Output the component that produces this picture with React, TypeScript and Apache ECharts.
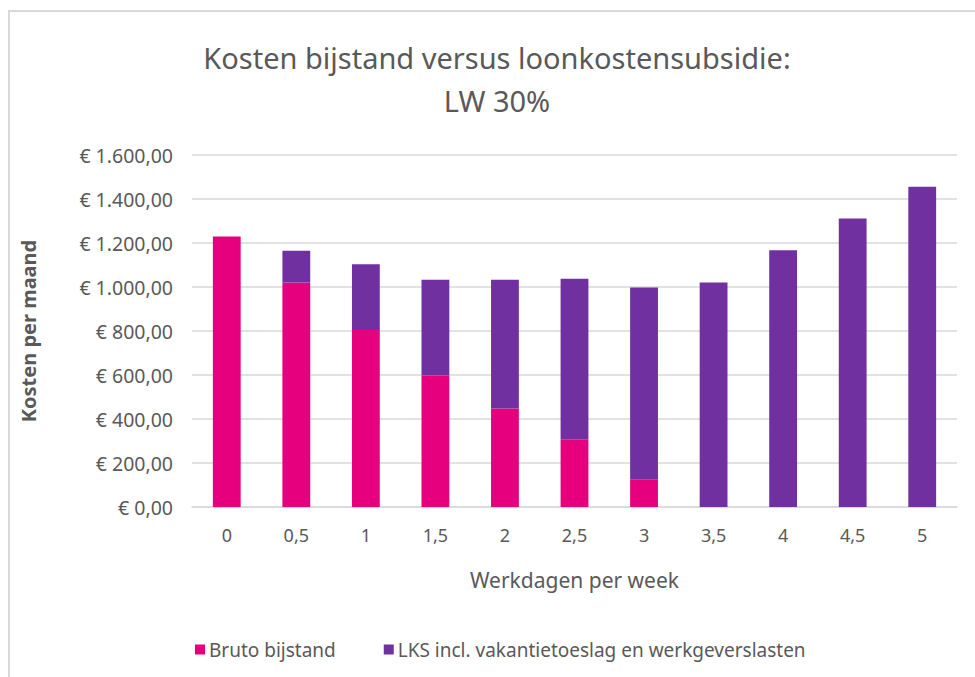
import React, { useEffect, useRef } from "react";
import * as echarts from "echarts";

const categories = ["0", "0,5", "1", "1,5", "2", "2,5", "3", "3,5", "4", "4,5", "5"];
const brutoBijstand = [1230, 1020, 805, 598, 448, 308, 124, 0, 0, 0, 0];
const lks = [0, 145, 298, 435, 585, 730, 874, 1020, 1167, 1311, 1456];
const yTicks = [0, 200, 400, 600, 800, 1000, 1200, 1400, 1600];
const titleLines = ["Kosten bijstand versus loonkostensubsidie:", "LW 30%"];

const FONT = "'Noto Sans', 'Open Sans', sans-serif";
const TXT = "#595959";

function euro(v: number): string {
  const s = Math.round(v).toString().replace(/\B(?=(\d{3})+(?!\d))/g, ".");
  return "€ " + s + ",00";
}

export default function App() {
  const ref = useRef<HTMLDivElement>(null);
  useEffect(() => {
    if (!ref.current) return;
    const chart = echarts.init(ref.current, null, { renderer: "svg" });
    chart.setOption({
      animation: false,
      backgroundColor: "#ffffff",
      textStyle: { fontFamily: FONT },
      graphic: [
        {
          type: "polyline",
          shape: { points: [[9, 700], [9, 11], [990, 11]] },
          style: { stroke: "#d9d9d9", lineWidth: 2, fill: "none" },
          silent: true,
        },
        ...titleLines.map((t, i) => ({
          type: "text",
          x: 497,
          y: 57 + i * 43,
          silent: true,
          style: {
            text: t,
            textAlign: "center",
            textVerticalAlign: "middle",
            fontFamily: FONT,
            fontSize: 29,
            fill: TXT,
          },
        })),
      ],
      legend: {
        left: 190,
        top: 635,
        itemWidth: 10,
        itemHeight: 10,
        itemGap: 48,
        icon: "rect",
        textStyle: { fontFamily: FONT, fontSize: 19, color: TXT, padding: [0, 0, 0, -1] },
        data: ["Bruto bijstand", "LKS incl. vakantietoeslag en werkgeverslasten"],
      },
      grid: { left: 192, right: 18, top: 155, bottom: 170, containLabel: false },
      xAxis: {
        type: "category",
        data: categories,
        name: "Werkdagen per week",
        nameLocation: "middle",
        nameGap: 62,
        nameTextStyle: { fontFamily: FONT, fontSize: 21, color: TXT },
        axisLine: { lineStyle: { color: "#d9d9d9", width: 1.5 } },
        axisTick: { show: false },
        axisLabel: { fontFamily: FONT, fontSize: 18, color: TXT, margin: 19 },
      },
      yAxis: {
        type: "value",
        min: yTicks[0],
        max: yTicks[yTicks.length - 1],
        interval: 200,
        name: "Kosten per maand",
        nameLocation: "middle",
        nameGap: 154,
        nameTextStyle: { fontFamily: FONT, fontSize: 20, fontWeight: "bold", color: TXT },
        axisLine: { show: false },
        axisTick: { show: false },
        splitLine: { lineStyle: { color: "#d9d9d9", width: 1.5 } },
        axisLabel: { fontFamily: FONT, fontSize: 19.5, color: TXT, margin: 19, formatter: (v: number) => euro(v) },
      },
      series: [
        {
          name: "Bruto bijstand",
          type: "bar",
          stack: "total",
          data: brutoBijstand,
          barWidth: "40%",
          itemStyle: { color: "#E6007E" },
        },
        {
          name: "LKS incl. vakantietoeslag en werkgeverslasten",
          type: "bar",
          stack: "total",
          data: lks,
          barWidth: "40%",
          itemStyle: { color: "#7030A0" },
        },
      ],
    });
    return () => chart.dispose();
  }, []);
  return <div ref={ref} style={{ width: 975, height: 677, position: "absolute", left: 0, top: 0 }} />;
}
